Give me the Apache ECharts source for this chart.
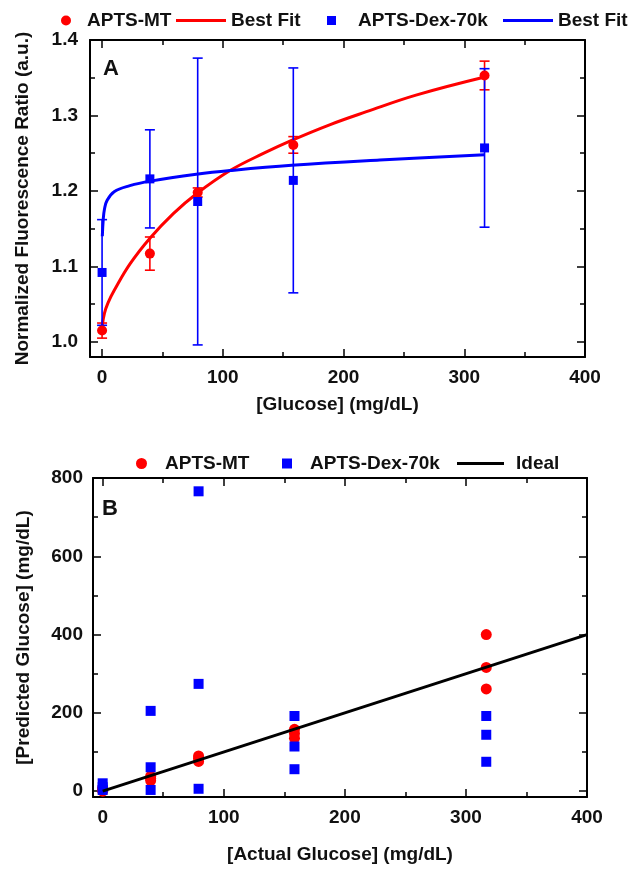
<!DOCTYPE html>
<html>
<head>
<meta charset="utf-8">
<script src="https://cdn.jsdelivr.net/npm/echarts@6/dist/echarts.min.js"></script>
<style>
html,body{margin:0;padding:0;background:#fff;}
#chart{width:633px;height:869px;}
</style>
</head>
<body>
<div id="chart"></div>
<script>
// ---------- Panel A data ----------
const conc = [0, 39.6, 79.2, 158.4, 316.8];
const mtRatio = [1.015, 1.117, 1.198, 1.261, 1.353];
const mtErr = [0.010, 0.022, 0.006, 0.011, 0.019];
const dexRatio = [1.092, 1.216, 1.186, 1.214, 1.257];
const dexErr = [0.070, 0.065, 0.190, 0.149, 0.105];

// best-fit curves
const mtFitX = [0, 2, 5, 10, 23, 40, 59, 78, 106, 134, 157, 189, 219, 260, 317];
const mtFitY = [1.020, 1.038, 1.052, 1.068, 1.103, 1.138, 1.170, 1.196, 1.227, 1.250, 1.267, 1.288, 1.305, 1.327, 1.351];
const dexFitX = [0.2, 1, 2, 4, 10, 23, 40, 78, 106, 157, 230, 317];
const dexFitY = [1.140, 1.163, 1.176, 1.187, 1.199, 1.207, 1.213, 1.222, 1.227, 1.234, 1.241, 1.248];

// ---------- Panel B data ----------
const actual = [0, 39.6, 79.2, 158.4, 316.8];
const mtPred = [[0, 4, 8], [27, 33, 38], [76, 84, 90], [158, 147, 135], [400, 316, 261]];
const dexPred = [[20, 10, 3], [205, 61, 3], [766, 274, 6], [192, 114, 56], [192, 144, 75]];
const idealX = [0, 400];
const idealY = [0, 400];

// tick labels
const xMajor = [0, 100, 200, 300, 400];
const xMinor = [50, 150, 250, 350];
const yMajorA = [1.0, 1.1, 1.2, 1.3, 1.4];
const yMinorA = [1.05, 1.15, 1.25, 1.35];
const yMajorB = [0, 200, 400, 600, 800];
const yMinorB = [100, 300, 500, 700];

const FONT = 'Liberation Sans';
const TXT = '#111';
const RED = '#ff0000';
const BLUE = '#0000ff';

function zip(a, b) { return a.map((v, i) => [v, b[i]]); }

function makeAxes(dir, grid, min, max, major, minor, opts) {
  const isX = dir === 'x';
  const pos1 = isX ? 'bottom' : 'left';
  const pos2 = isX ? 'top' : 'right';
  const base = {
    type: 'value', gridIndex: grid, min: min, max: max,
    splitLine: { show: false }, scale: false
  };
  const line = { show: true, onZero: false, lineStyle: { color: '#000', width: 2 } };
  const noLine = { show: false, onZero: false };
  const tick = (vals, len) => ({ show: true, inside: true, length: len, customValues: vals, lineStyle: { color: '#000', width: 1.5 } });
  const list = [];
  list.push(Object.assign({}, base, {
    position: pos1, axisLine: line, axisTick: tick(major, 8),
    axisLabel: {
      show: true, customValues: major, margin: opts.margin,
      fontSize: 19, fontWeight: 'bold', fontFamily: FONT, color: TXT,
      formatter: opts.fmt
    },
    name: opts.name, nameLocation: 'middle', nameGap: opts.nameGap,
    nameTextStyle: { fontSize: 19, fontWeight: 'bold', fontFamily: FONT, color: TXT }
  }));
  list.push(Object.assign({}, base, { position: pos1, axisLine: noLine, axisTick: tick(minor, 5), axisLabel: { show: false } }));
  list.push(Object.assign({}, base, { position: pos2, axisLine: line, axisTick: tick(major, 8), axisLabel: { show: false } }));
  list.push(Object.assign({}, base, { position: pos2, axisLine: noLine, axisTick: tick(minor, 5), axisLabel: { show: false } }));
  return list;
}

const xAxes = [].concat(
  makeAxes('x', 0, -10, 400, xMajor, xMinor, { margin: 11, name: '[Glucose] (mg/dL)', nameGap: 38, fmt: v => String(v) }),
  makeAxes('x', 1, -8, 400, xMajor, xMinor, { margin: 11, name: '[Actual Glucose] (mg/dL)', nameGap: 48, fmt: v => String(v) })
);
const yAxes = [].concat(
  makeAxes('y', 0, 0.98, 1.4, yMajorA, yMinorA, { margin: 12, name: 'Normalized Fluorescence Ratio (a.u.)', nameGap: 58, fmt: v => Number(v).toFixed(1) }),
  makeAxes('y', 1, -15, 800, yMajorB, yMinorB, { margin: 10, name: '[Predicted Glucose] (mg/dL)', nameGap: 60, fmt: v => String(v) })
);

function errorSeries(name, xs, ys, es, color, xi, yi) {
  return {
    type: 'custom', name: name, xAxisIndex: xi, yAxisIndex: yi,
    data: xs.map((x, i) => [x, ys[i], es[i]]),
    encode: { x: 0, y: 1 },
    z: 3,
    renderItem: function (params, api) {
      const x = api.value(0), y = api.value(1), e = api.value(2);
      const top = api.coord([x, y + e]);
      const bot = api.coord([x, y - e]);
      const w = 5;
      const st = { stroke: color, lineWidth: 1.6 };
      return {
        type: 'group',
        children: [
          { type: 'line', shape: { x1: top[0], y1: top[1], x2: bot[0], y2: bot[1] }, style: st },
          { type: 'line', shape: { x1: top[0] - w, y1: top[1], x2: top[0] + w, y2: top[1] }, style: st },
          { type: 'line', shape: { x1: bot[0] - w, y1: bot[1], x2: bot[0] + w, y2: bot[1] }, style: st }
        ]
      };
    }
  };
}

function flatten(xs, groups) {
  const out = [];
  groups.forEach((g, i) => g.forEach(v => out.push([xs[i], v])));
  return out;
}

const legendText = { fontSize: 19, fontWeight: 'bold', fontFamily: FONT, color: TXT };
function leg(name, icon, left, top, w, h, padLeft) {
  return {
    data: [name], icon: icon, left: left, top: top, itemWidth: w, itemHeight: h,
    textStyle: Object.assign({}, legendText, { padding: [0, 0, 0, padLeft] }),
    selectedMode: false, padding: 0
  };
}

const option = {
  animation: false,
  backgroundColor: '#fff',
  grid: [
    { left: 90, right: 48, top: 40, bottom: 512, containLabel: false },
    { left: 93, right: 46, top: 478, bottom: 72, containLabel: false }
  ],
  title: [
    { text: 'A', left: 98, top: 53, textStyle: { fontSize: 22, fontWeight: 'bold', fontFamily: FONT, color: TXT } },
    { text: 'B', left: 97, top: 493, textStyle: { fontSize: 22, fontWeight: 'bold', fontFamily: FONT, color: TXT } }
  ],
  legend: [
    leg('APTS-MT', 'circle', 61, 11, 10, 10, 11),
    leg('Best Fit', 'rect', 176, 11, 50, 3, 0),
    leg('APTS-Dex-70k', 'rect', 327, 11, 9, 9, 17),
    leg('Best Fit ', 'rect', 503, 11, 50, 3, 0),
    leg('APTS-MT', 'circle', 136, 454, 11, 11, 13),
    leg('APTS-Dex-70k', 'rect', 282, 454, 10, 10, 13),
    leg('Ideal', 'rect', 457, 454, 47, 3, 7)
  ],
  xAxis: xAxes,
  yAxis: yAxes,
  series: [
    // Panel A
    { type: 'line', name: 'Best Fit', xAxisIndex: 0, yAxisIndex: 0, data: zip(mtFitX, mtFitY),
      symbol: 'none', smooth: 0.4, lineStyle: { color: RED, width: 3 }, itemStyle: { color: RED }, z: 2 },
    { type: 'line', name: 'Best Fit ', xAxisIndex: 0, yAxisIndex: 0, data: zip(dexFitX, dexFitY),
      symbol: 'none', smooth: 0.4, lineStyle: { color: BLUE, width: 3 }, itemStyle: { color: BLUE }, z: 2 },
    errorSeries('MT error', conc, mtRatio, mtErr, RED, 0, 0),
    errorSeries('Dex error', conc, dexRatio, dexErr, BLUE, 0, 0),
    { type: 'scatter', name: 'APTS-MT', xAxisIndex: 0, yAxisIndex: 0, data: zip(conc, mtRatio),
      symbol: 'circle', symbolSize: 10, itemStyle: { color: RED, opacity: 1 }, z: 4 },
    { type: 'scatter', name: 'APTS-Dex-70k', xAxisIndex: 0, yAxisIndex: 0, data: zip(conc, dexRatio),
      symbol: 'rect', symbolSize: 9, itemStyle: { color: BLUE, opacity: 1 }, z: 4 },
    // Panel B
    { type: 'scatter', name: 'APTS-MT', xAxisIndex: 4, yAxisIndex: 4, data: flatten(actual, mtPred),
      symbol: 'circle', symbolSize: 11, itemStyle: { color: RED, opacity: 1 }, z: 3 },
    { type: 'scatter', name: 'APTS-Dex-70k', xAxisIndex: 4, yAxisIndex: 4, data: flatten(actual, dexPred),
      symbol: 'rect', symbolSize: 10, itemStyle: { color: BLUE, opacity: 1 }, z: 4 },
    { type: 'line', name: 'Ideal', xAxisIndex: 4, yAxisIndex: 4, data: zip(idealX, idealY),
      symbol: 'none', lineStyle: { color: '#000', width: 3 }, itemStyle: { color: '#000' }, z: 5 }
  ]
};

const chart = echarts.init(document.getElementById('chart'), null, { renderer: 'canvas' });
chart.setOption(option);
</script>
</body>
</html>
